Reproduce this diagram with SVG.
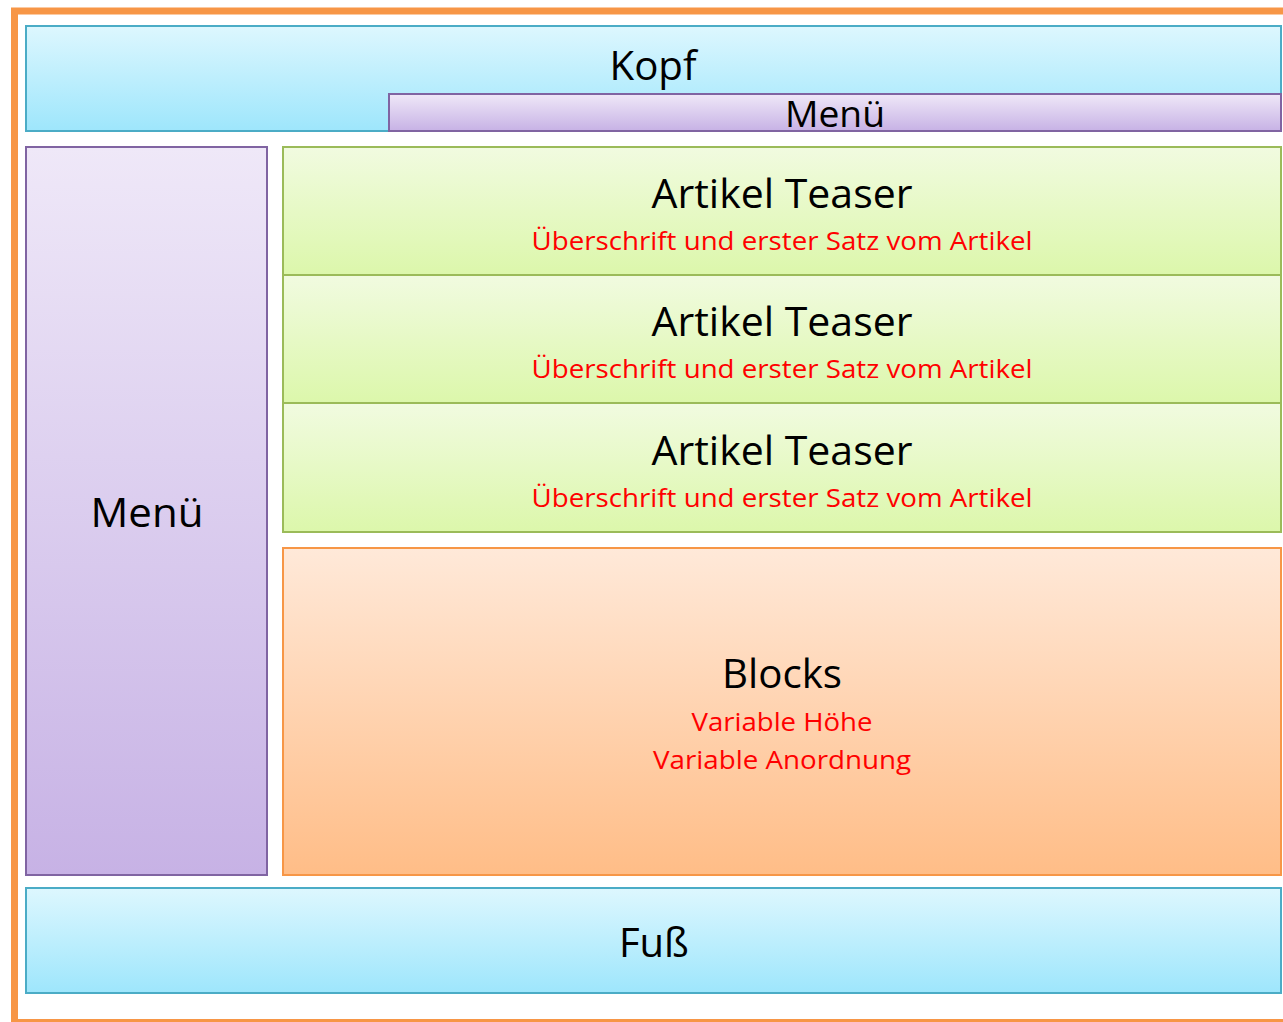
<svg xmlns="http://www.w3.org/2000/svg" width="1283" height="1022" viewBox="0 0 1283 1022">
<defs>
<linearGradient id="gBlue" x1="0" y1="0" x2="0" y2="1"><stop offset="0" stop-color="#ddf7fe"/><stop offset="1" stop-color="#9ee6fc"/></linearGradient>
<linearGradient id="gPurple" x1="0" y1="0" x2="0" y2="1"><stop offset="0" stop-color="#efe8f8"/><stop offset="1" stop-color="#c7b2e5"/></linearGradient>
<linearGradient id="gGreen" x1="0" y1="0" x2="0" y2="1"><stop offset="0" stop-color="#f1fbe0"/><stop offset="1" stop-color="#dcf7ab"/></linearGradient>
<linearGradient id="gOrange" x1="0" y1="0" x2="0" y2="1"><stop offset="0" stop-color="#ffe9d9"/><stop offset="1" stop-color="#ffbd87"/></linearGradient>
</defs>
<style>
.blue{fill:url(#gBlue);stroke:#4bacc6;stroke-width:2}
.purple{fill:url(#gPurple);stroke:#8064a2;stroke-width:2}
.green{fill:url(#gGreen);stroke:#9bbb59;stroke-width:2}
.orange{fill:url(#gOrange);stroke:#f79646;stroke-width:2}
.t{font-family:"Open Sans","Liberation Sans",sans-serif;fill:#000;text-anchor:middle}
.big{font-size:41px}
.mid{font-size:37px}
.red{font-family:"Open Sans","Liberation Sans",sans-serif;fill:#ff0000;text-anchor:middle;font-size:25px}
</style>
<rect width="1283" height="1022" fill="#ffffff"/>
<rect id="frame" x="14.5" y="11" width="1290" height="1011.5" fill="none" stroke="#f79646" stroke-width="7"/>
<g id="kopf">
<rect class="blue" x="26" y="26" width="1255" height="105"/>
<text class="t big" x="653" y="80" textLength="87" lengthAdjust="spacingAndGlyphs">Kopf</text>
</g>
<g id="menu-top">
<rect class="purple" x="389" y="94" width="892" height="37"/>
<text class="t mid" x="835" y="127" textLength="100" lengthAdjust="spacingAndGlyphs">Menü</text>
</g>
<g id="menu-left">
<rect class="purple" x="26" y="147" width="241" height="728"/>
<text class="t big" x="147" y="527" textLength="113" lengthAdjust="spacingAndGlyphs">Menü</text>
</g>
<g id="teaser1">
<rect class="green" x="283" y="147" width="998" height="128"/>
<text class="t big" x="782" y="208" textLength="261" lengthAdjust="spacingAndGlyphs">Artikel Teaser</text>
<text class="red" x="782" y="250" textLength="501" lengthAdjust="spacingAndGlyphs">Überschrift und erster Satz vom Artikel</text>
</g>
<g id="teaser2">
<rect class="green" x="283" y="275" width="998" height="128"/>
<text class="t big" x="782" y="336" textLength="261" lengthAdjust="spacingAndGlyphs">Artikel Teaser</text>
<text class="red" x="782" y="378" textLength="501" lengthAdjust="spacingAndGlyphs">Überschrift und erster Satz vom Artikel</text>
</g>
<g id="teaser3">
<rect class="green" x="283" y="403" width="998" height="129"/>
<text class="t big" x="782" y="465" textLength="261" lengthAdjust="spacingAndGlyphs">Artikel Teaser</text>
<text class="red" x="782" y="507" textLength="501" lengthAdjust="spacingAndGlyphs">Überschrift und erster Satz vom Artikel</text>
</g>
<g id="blocks">
<rect class="orange" x="283" y="548" width="998" height="327"/>
<text class="t big" x="782" y="688" textLength="120" lengthAdjust="spacingAndGlyphs">Blocks</text>
<text class="red" x="782" y="731" textLength="181" lengthAdjust="spacingAndGlyphs">Variable Höhe</text>
<text class="red" x="782" y="769" textLength="258" lengthAdjust="spacingAndGlyphs">Variable Anordnung</text>
</g>
<g id="fuss">
<rect class="blue" x="26" y="888" width="1255" height="105"/>
<text class="t big" x="654" y="957" textLength="70" lengthAdjust="spacingAndGlyphs">Fuß</text>
</g>
<g id="connectors"></g>
</svg>
